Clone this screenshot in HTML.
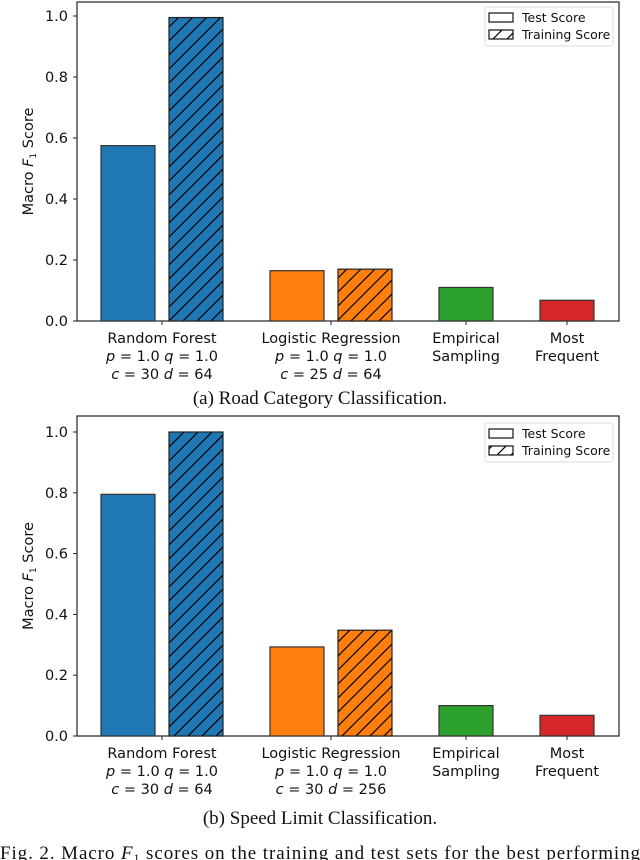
<!DOCTYPE html>
<html><head><meta charset="utf-8"><style>
body{margin:0;background:#fff;width:640px;height:860px;overflow:hidden}
svg{display:block}
.t{font-family:"DejaVu Sans","Liberation Sans",sans-serif;font-size:14.5px;fill:#111}
.cap{font-family:"Liberation Serif",serif;font-size:19px;fill:#111}
</style></head><body>
<svg id="s" width="640" height="860">
<defs>
<pattern id="hatch" patternUnits="userSpaceOnUse" width="14" height="14">
<path d="M0,14 L14,0 M-3,3 L3,-3 M11,17 L17,11" stroke="#000" stroke-width="1.2"/>
</pattern>
</defs>
</svg>
<script>
const categories=["Random Forest","Logistic Regression","Empirical Sampling","Most Frequent"];
const labelsA=[["Random Forest","p = 1.0 q = 1.0","c = 30 d = 64"],["Logistic Regression","p = 1.0 q = 1.0","c = 25 d = 64"],["Empirical","Sampling"],["Most","Frequent"]];
const labelsB=[["Random Forest","p = 1.0 q = 1.0","c = 30 d = 64"],["Logistic Regression","p = 1.0 q = 1.0","c = 30 d = 256"],["Empirical","Sampling"],["Most","Frequent"]];
const testA=[0.575,0.165,0.11,0.068];
const trainA=[0.995,0.17,null,null];
const testB=[0.795,0.293,0.1,0.068];
const trainB=[1.0,0.348,null,null];
const yTicks=[0.0,0.2,0.4,0.6,0.8,1.0];
const colors=["#1f77b4","#ff7f0e","#2ca02c","#d62728"];
const S=document.getElementById('s');const NS="http://www.w3.org/2000/svg";
function el(t,a,p){const e=document.createElementNS(NS,t);for(const k in a)e.setAttribute(k,a[k]);(p||S).appendChild(e);return e;}
function chart(name,top,bottom,y1,test,train,labels,legTop){
  const g=el('g',{});
  
  
  const L=77,R=619;
  const y=v=>bottom-(bottom-y1)*v;
  const x=i=>[162,331,466,567][i];
  const bw=54;
  el('rect',{x:L,y:top,width:R-L,height:bottom-top,fill:'none',stroke:'#222','stroke-width':1.2},g);
  yTicks.forEach(v=>{
    el('line',{x1:L-4,x2:L,y1:y(v),y2:y(v),stroke:'#222'},g);
    const t=el('text',{x:L-9,y:y(v)+5,'text-anchor':'end',class:'t'},g);t.textContent=v.toFixed(1);
    
    
  });
  const yl=el('text',{x:0,y:0,class:'t','text-anchor':'middle',transform:`translate(33,${(top+bottom)/2}) rotate(-90)`},g);
  yl.innerHTML='Macro <tspan font-style="italic">F</tspan><tspan font-size="9" dy="3">1</tspan><tspan dy="-3"> Score</tspan>';
  
  
  test.forEach((v,i)=>{
    const hasTrain=train[i]!==null;
    const cx=x(i);
    const tx=hasTrain?cx-61:cx-27;
    const r=el('rect',{x:tx,y:y(v),width:bw,height:bottom-y(v),fill:colors[i],stroke:'#333','stroke-width':1.2},g);
    
    
    if(hasTrain){
      const tv=train[i];
      const r2=el('rect',{x:cx+7,y:y(tv),width:bw,height:bottom-y(tv),fill:colors[i]},g);
      
      
      el('rect',{x:cx+7,y:y(tv),width:bw,height:bottom-y(tv),fill:'url(#hatch)',stroke:'#222','stroke-width':1.2},g);
    }
    el('line',{x1:cx,x2:cx,y1:bottom,y2:bottom+4,stroke:'#222'},g);
    labels[i].forEach((ln,j)=>{
      const t=el('text',{x:cx,y:bottom+22+j*18,'text-anchor':'middle',class:'t'},g);
      if(j==2||(j==1&&ln.startsWith('p'))){
        t.innerHTML=ln.replace(/([pqcd]) =/g,'<tspan font-style="italic">$1</tspan> =');
      } else t.textContent=ln;
      
      
    });
  });
  const lg=el('g',{},g);
  
  
  el('rect',{x:485,y:legTop,width:128,height:39,fill:'#fff',stroke:'#ddd',rx:2},lg);
  el('rect',{x:489,y:legTop+6,width:24,height:9,fill:'#fff',stroke:'#111','stroke-width':1.2},lg);
  el('rect',{x:489,y:legTop+23,width:24,height:9,fill:'url(#hatch)',stroke:'#111','stroke-width':1.2},lg);
  const a=el('text',{x:522,y:legTop+15,class:'t'},lg);a.textContent='Test Score';a.style.fontSize='12.5px';
  const b=el('text',{x:522,y:legTop+32,class:'t'},lg);b.textContent='Training Score';b.style.fontSize='12.5px';
}
chart('chart-road-category',2,321,16,testA,trainA,labelsA,7);
chart('chart-speed-limit',416,736,432,testB,trainB,labelsB,423);
function cap(txt,x,y,name,anchor){const t=el('text',{x:x,y:y,class:'cap','text-anchor':anchor||'middle'});t.innerHTML=txt;

return t;}
cap('(a) Road Category Classification.',320,404,'caption-a');
cap('(b) Speed Limit Classification.',320,824,'caption-b');
const fc=cap('Fig. 2.  Macro <tspan font-style="italic">F</tspan><tspan font-size="12" dy="3">1</tspan><tspan dy="-3"> scores on the training and test sets for the best performing</tspan>',0,859,'figure-caption','start');
fc.setAttribute('textLength','640');
</script>
</body></html>
